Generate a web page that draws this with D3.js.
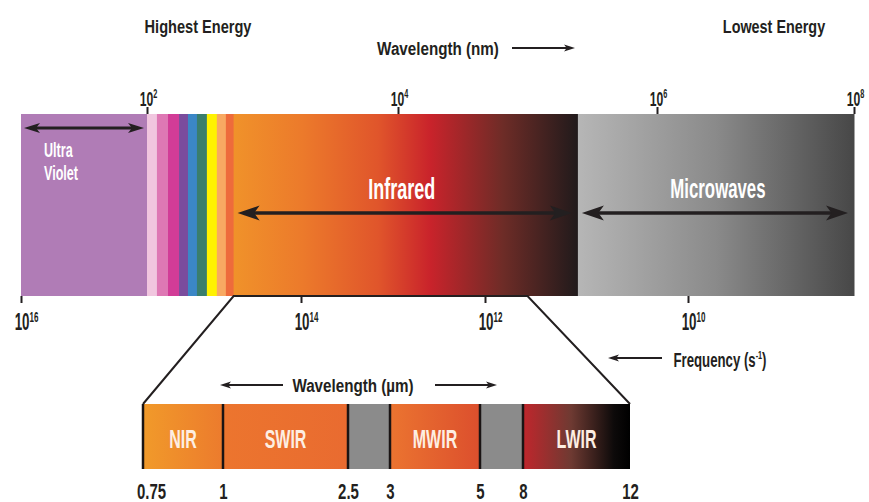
<!DOCTYPE html>
<html><head><meta charset="utf-8">
<script src="https://cdn.jsdelivr.net/npm/d3@7"></script>
<style>html,body{margin:0;padding:0;background:#fff;} svg{display:block;}</style>
</head><body><svg id="c" width="869" height="502"></svg>
<script>
// ---------------- data ----------------
const wavelengthTicks = [1e2, 1e4, 1e6, 1e8];            // nm (top axis)
const frequencyTicks  = [1e16, 1e14, 1e12, 1e10];        // s^-1 (bottom axis)
const bandEdges = [10, 100, 120, 147, 180, 212, 250, 300, 360, 425, 490, 245000, 1e8]; // nm
const bandNames = ["Ultra Violet", "", "", "", "", "", "", "", "", "", "Infrared", "Microwaves"];
const zoomedRange = [490, 100000];                      // nm, part expanded in the inset
const irEdges = [0.75, 1, 2.5, 3, 5, 8, 12];             // µm
const irNames = ["NIR", "SWIR", "", "MWIR", "", "LWIR"];
const titleLeft = "Highest Energy";
const titleRight = "Lowest Energy";
const wavelengthTitle = "Wavelength (nm)";
const frequencyTitle = ["Frequency (s", "-1", ")"];
const irTitle = "Wavelength (\u00B5m)";

// ---------------- styles ----------------
const FONT = "'Liberation Sans', Arial, sans-serif";
const INK = "#231f20";
const bandFills = ["#b07cb6", "#f1c6df", "#de78b4", "#d23c97", "#7a4c9d", "#3b87c6", "#3a7e6c",
                   "#fff200", "#f8a962", "#ee6b3b", "url(#gIR)", "url(#gMW)"];
const irFills = ["url(#gNIR)", "url(#gSWIR)", "#8b8b8b", "url(#gMWIR)", "#8b8b8b", "url(#gLWIR)"];

const svg = d3.select("#c");
svg.append("rect").attr("width", 869).attr("height", 502).attr("fill", "#fff");
const defs = svg.append("defs");
function grad(id, stops) {
  const g = defs.append("linearGradient").attr("id", id)
    .attr("x1", "0%").attr("x2", "100%").attr("y1", "0%").attr("y2", "0%");
  stops.forEach(([o, c]) => g.append("stop").attr("offset", o).attr("stop-color", c));
}
grad("gIR", [[0, "#f0922a"], [0.2, "#ec7a2b"], [0.42, "#e0552b"], [0.57, "#c9232b"], [0.78, "#6e2c27"], [1, "#201a1b"]]);
grad("gMW", [[0, "#b6b6b6"], [0.5, "#8a8a8a"], [1, "#474747"]]);
grad("gNIR", [[0, "#f19a2a"], [1, "#ec7b2d"]]);
grad("gSWIR", [[0, "#ec752e"], [1, "#e96b30"]]);
grad("gMWIR", [[0, "#eb7430"], [1, "#dc4f2d"]]);
grad("gLWIR", [[0, "#c0262c"], [0.45, "#6e3a32"], [0.85, "#0d0a0a"], [1, "#000"]]);

// ---------------- layout ----------------
const band = { top: 114, bottom: 296 };
const inset = { top: 404, bottom: 469 };
const x = d3.scaleLog().domain([10, 1e2, 1e4, 1e6, 1e8]).range([21, 147, 398, 657, 854]);
const f = d3.scaleLog().domain([1e16, 1e14, 1e12, 1e10]).range([21, 301, 485, 688]);
const xi = d3.scaleLinear().domain(irEdges).range([143, 223, 348, 390, 480, 523, 630]);

// condensed text helper (horizontal compression imitates a condensed face)
function label(parent, s, tx, ty, o) {
  const { size = 18, sx = 0.8, anchor = "middle", fill = INK } = o || {};
  return parent.append("text").attr("font-family", FONT).attr("font-weight", "bold")
    .attr("font-size", size).attr("fill", fill).attr("text-anchor", anchor)
    .attr("transform", `translate(${tx},${ty}) scale(${sx},1)`).text(s);
}
function arrow(g, x1, x2, y, opt) {
  const { left = true, right = true, head = 16, hw = 6, sw = 3.5 } = opt || {};
  g.append("line").attr("x1", left ? x1 + head * 0.7 : x1).attr("x2", right ? x2 - head * 0.7 : x2)
    .attr("y1", y).attr("y2", y).attr("stroke", INK).attr("stroke-width", sw);
  if (left) g.append("path").attr("d", `M${x1},${y}L${x1 + head},${y - hw}L${x1 + head * 0.75},${y}L${x1 + head},${y + hw}Z`).attr("fill", INK);
  if (right) g.append("path").attr("d", `M${x2},${y}L${x2 - head},${y - hw}L${x2 - head * 0.75},${y}L${x2 - head},${y + hw}Z`).attr("fill", INK);
}

// ---------------- main spectrum bands ----------------
const pairs = d3.pairs(bandEdges);
svg.append("g").selectAll("rect").data(pairs).join("rect")
  .attr("x", d => x(d[0])).attr("width", d => x(d[1]) - x(d[0]) + 0.5)
  .attr("y", band.top).attr("height", band.bottom - band.top)
  .attr("fill", (d, i) => bandFills[i]);

// band arrows and names
const arrows = svg.append("g");
[0, 10, 11].forEach(i => {
  const [a, b] = pairs[i];
  if (i === 0) arrow(arrows, x(a) + 3, x(b) - 3, 128, { head: 16, hw: 5, sw: 3 });
  else arrow(arrows, x(a) + 4, x(b) - 6, 213, { head: 22, hw: 7.5, sw: 3.5 });
});
const uvWords = bandNames[0].split(" ");
label(svg, uvWords[0], x(bandEdges[0]) + 23, 157, { size: 21, sx: 0.6, anchor: "start", fill: "#fff" });
label(svg, uvWords[1], x(bandEdges[0]) + 23, 180, { size: 21, sx: 0.6, anchor: "start", fill: "#fff" });
label(svg, bandNames[10], (x(pairs[10][0]) + x(pairs[10][1])) / 2 - 4, 199, { size: 29, sx: 0.62, fill: "#fff" });
label(svg, bandNames[11], (x(pairs[11][0]) + x(pairs[11][1])) / 2 + 2, 198, { size: 28, sx: 0.6, fill: "#fff" });

// ---------------- axes ----------------
function styleAxis(g, size, sx, dx) {
  g.attr("font-family", FONT).attr("font-size", size).attr("font-weight", "bold");
  g.select(".domain").remove();
  g.selectAll(".tick line").attr("stroke", INK).attr("stroke-width", 2);
  g.selectAll(".tick text").attr("fill", INK).attr("transform", `translate(${dx || 0},0) scale(${sx},1)`);
}
function sup(g, size) {
  g.selectAll(".tick text").each(function (d) {
    const t = d3.select(this);
    t.text("10");
    t.append("tspan").attr("font-size", size * 0.6).attr("dy", -0.38 * size).text(Math.round(Math.log10(d)));
  });
}
const topAxis = svg.append("g").attr("transform", `translate(0,${band.top})`)
  .call(d3.axisTop(x).tickValues(wavelengthTicks).tickSize(7).tickPadding(1));
styleAxis(topAxis, 21, 0.58, 1);
sup(topAxis, 21);

const botAxis = svg.append("g").attr("transform", `translate(0,${band.bottom})`)
  .call(d3.axisBottom(f).tickValues(frequencyTicks).tickSize(7).tickPadding(11));
styleAxis(botAxis, 23, 0.58, 5);
sup(botAxis, 23);

// ---------------- titles ----------------
label(svg, titleLeft, 198, 33, { size: 18, sx: 0.81 });
label(svg, titleRight, 774, 33, { size: 18, sx: 0.8 });
label(svg, wavelengthTitle, 438, 55, { size: 19, sx: 0.8 });
arrow(svg, 512, 575, 48, { left: false, head: 11, hw: 3.5, sw: 1.8 });
const ft = label(svg, frequencyTitle[0], 720, 367, { size: 20, sx: 0.66 });
ft.append("tspan").attr("font-size", 11).attr("dy", -8).text(frequencyTitle[1]);
ft.append("tspan").attr("dy", 8).text(frequencyTitle[2]);
arrow(svg, 608, 662, 358, { right: false, head: 11, hw: 3.5, sw: 1.8 });

// ---------------- zoom trapezoid ----------------
svg.append("path")
  .attr("d", `M${xi(irEdges[0])},${inset.top}L${x(zoomedRange[0])},${band.bottom}L${x(zoomedRange[1])},${band.bottom}L${xi(irEdges[irEdges.length - 1])},${inset.top}`)
  .attr("fill", "none").attr("stroke", INK).attr("stroke-width", 2);

// ---------------- infrared inset ----------------
const ipairs = d3.pairs(irEdges);
svg.append("g").selectAll("rect").data(ipairs).join("rect")
  .attr("x", d => xi(d[0])).attr("width", d => xi(d[1]) - xi(d[0]))
  .attr("y", inset.top).attr("height", inset.bottom - inset.top)
  .attr("fill", (d, i) => irFills[i]);
svg.append("g").selectAll("line").data(irEdges.slice(0, -1)).join("line")
  .attr("x1", d => xi(d)).attr("x2", d => xi(d)).attr("y1", inset.top).attr("y2", inset.bottom)
  .attr("stroke", "#1a1414").attr("stroke-width", 2.5);
ipairs.forEach((d, i) => {
  if (irNames[i]) label(svg, irNames[i], (xi(d[0]) + xi(d[1])) / 2, 448, { size: 25, sx: 0.64, fill: "#fdeee2" });
});

const irAxis = svg.append("g").attr("transform", `translate(0,${inset.bottom})`)
  .call(d3.axisBottom(xi).tickValues(irEdges).tickSize(0).tickPadding(14).tickFormat(d => String(d)));
styleAxis(irAxis, 22, 0.68, 0);
irAxis.selectAll(".tick text").filter(d => d === irEdges[0])
  .attr("transform", "translate(8,0) scale(0.68,1)");

label(svg, irTitle, 353, 392, { size: 19, sx: 0.8 });
arrow(svg, 220, 283, 385, { right: false, head: 11, hw: 3.5, sw: 1.8 });
arrow(svg, 435, 497, 385, { left: false, head: 11, hw: 3.5, sw: 1.8 });
</script></body></html>
